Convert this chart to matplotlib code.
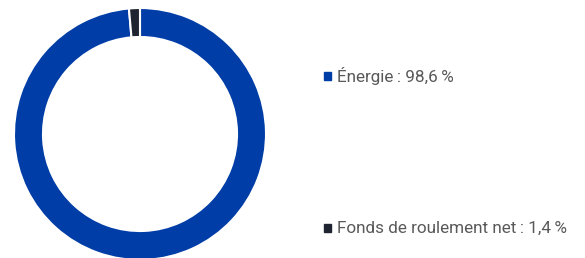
import matplotlib
matplotlib.use("Agg")
import matplotlib.pyplot as plt
from matplotlib.patches import Rectangle

labels = ["Énergie", "Fonds de roulement net"]
values = [98.6, 1.4]
colors = ["#003DA6", "#1F2430"]

plt.rcParams["font.family"] = ["Roboto", "DejaVu Sans"]

W, H = 585, 258
fig = plt.figure(figsize=(W / 100, H / 100), dpi=100)

# donut
ax = fig.add_axes([14 / W, 1 - 260 / H, 252 / W, 252 / H])
ax.pie(values, colors=colors, startangle=90, counterclock=False,
       wedgeprops=dict(width=0.23, edgecolor="white", linewidth=1.5))
ax.set_aspect("equal")
ax.set_xlim(-1, 1)
ax.set_ylim(-1, 1)
ax.axis("off")

# legend
ys = [76, 228]
for lab, v, c, y in zip(labels, values, colors, ys):
    fig.patches.append(Rectangle((324 / W, 1 - (y + 4) / H), 7 / W, 8 / H,
                                 transform=fig.transFigure, color=c))
    txt = f"{lab}\u2009: {v:.1f}\u2009%".replace(".", ",")
    fig.text(337 / W, 1 - y / H, txt, fontsize=12.3, color="#595959",
             va="center", ha="left")

fig.savefig("out.png", dpi=100)
